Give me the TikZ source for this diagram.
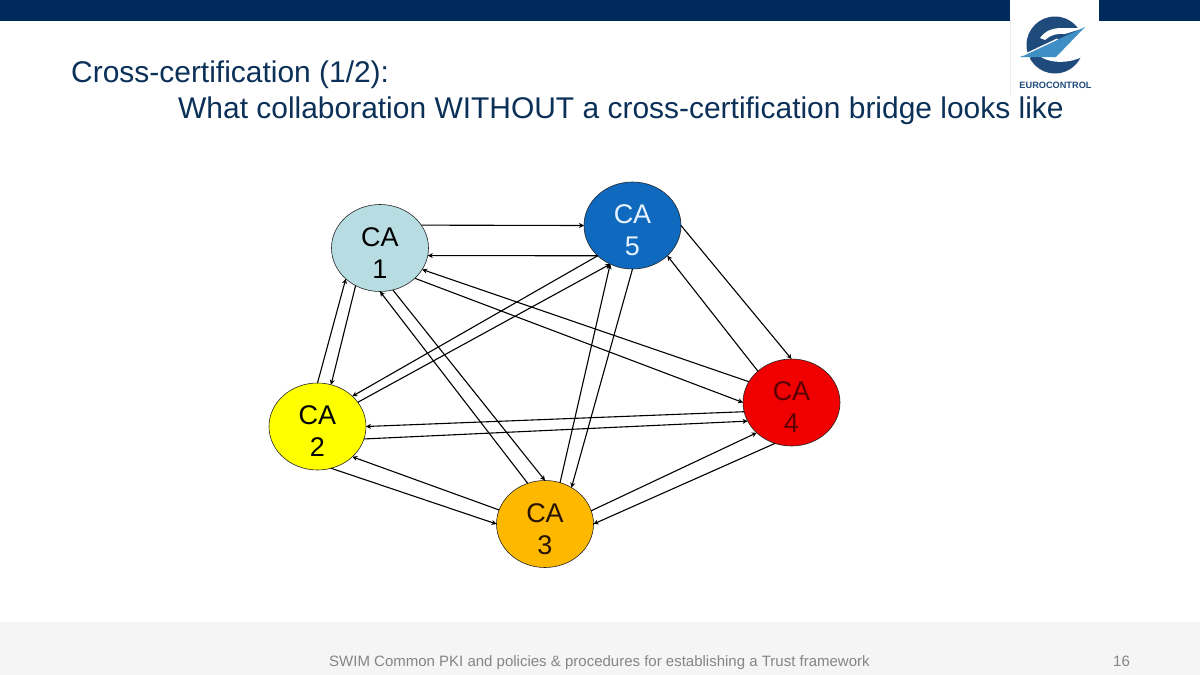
\documentclass[tikz,border=0pt]{standalone}
\usepackage{fontspec}
\setmainfont{Liberation Sans}
\usetikzlibrary{shapes.geometric,arrows.meta}
\definecolor{navy}{HTML}{002A5C}
\definecolor{titleblue}{HTML}{0B3158}
\definecolor{footgray}{HTML}{858585}
\definecolor{footband}{HTML}{F5F5F5}
\definecolor{logodark}{HTML}{1F4A7C}
\definecolor{logolight}{HTML}{3F8FC4}
\newcommand{\catext}[2]{\raisebox{-14pt}[0pt][0pt]{\begin{tabular}{@{}c@{}}#1\\#2\end{tabular}}}
\tikzset{
  canode/.style={ellipse,draw=black!85!white,line width=0.6pt,minimum width=97pt,minimum height=87pt,inner sep=0pt,outer sep=0pt,font=\fontsize{27}{32}\selectfont},
  link/.style={draw=black,line width=1.1pt,-{Stealth[length=5pt,width=5pt]}},
  titletext/.style={anchor=base west,inner sep=0pt,text=titleblue,font=\fontsize{29.95}{34}\selectfont},
  foottext/.style={anchor=base west,inner sep=0pt,text=footgray,font=\fontsize{15}{17}\selectfont}
}
\begin{document}
\begin{tikzpicture}[x=1pt,y=-1pt]
\useasboundingbox (0,0) rectangle (1200,675);
\fill[white] (0,0) rectangle (1200,675);
% top bar and logo
\fill[navy] (0,0) rectangle (1200,20.5);
\fill[white] (1010,0) rectangle (1099,97);
\draw[black!8,line width=0.6pt] (1010,20) -- (1010,97);
\fill[logodark] (1055,45) circle (28.5);
\fill[white] (1082,28) -- (1090,28) -- (1090,57) -- (1082,57) .. controls (1070,63) and (1052,64) .. (1041,57) -- (1056,44) -- cycle;
\fill[white] (1040,38) .. controls (1045,31) and (1052,28) .. (1062,28) -- (1084,28) -- (1065,34) .. controls (1058,33) and (1050,35) .. (1045,40) -- cycle;
\fill[white] (1021,57.5) -- (1075,33) -- (1078,35) -- (1030,57.5) -- cycle;
\fill[logolight] (1085,27) -- (1020,57) -- (1056,57) -- cycle;
\fill[white] (1021,55.5) -- (1057,38.5) -- (1058,39.5) -- (1024,55.5) -- cycle;
\node[anchor=base,inner sep=0pt,text=logodark,font=\fontsize{9.2}{11}\selectfont\bfseries] (logotext) at (1055.5,88) {EUROCONTROL};
% title
\node[titletext] (title1) at (71,82) {Cross-certification (1/2):};
\node[titletext] (title2) at (178,118) {What collaboration WITHOUT a cross-certification bridge looks like};
% footer
\fill[footband] (0,622) rectangle (1200,675);
\node[foottext] (foot) at (329,666) {SWIM Common PKI and policies \& procedures for establishing a Trust framework};
\node[foottext] (page) at (1113,666) {16};
% nodes
\node[canode,fill={rgb,255:red,183;green,221;blue,226}] (ca1) at (380,248) {\catext{CA}{1}};
\node[canode,fill={rgb,255:red,15;green,106;blue,191},text={rgb,255:red,230;green,242;blue,255}] (ca5) at (632.5,225.5) {\catext{CA}{5}};
\node[canode,fill={rgb,255:red,255;green,255;blue,0}] (ca2) at (317.5,426.5) {\catext{CA}{2}};
\node[canode,fill={rgb,255:red,255;green,184;blue,0},text=black!85!orange] (ca3) at (545,524) {\catext{CA}{3}};
\node[canode,fill={rgb,255:red,240;green,0;blue,0},text={rgb,255:red,90;green,0;blue,0}] (ca4) at (791.5,402.5) {\catext{CA}{4}};
% connectors
\draw[link] (ca1.29.3) -- (ca5.180);
\draw[link] (ca5.221.5) -- (ca1.-9.5);
\draw[link] (ca4.154.8) -- (ca1.-27.1);
\draw[link] (ca1.-41.5) -- (ca4.180);
\draw[link] (ca2.90) -- (ca1.222.4);
\draw[link] (ca1.237.7) -- (ca2.72.8);
\draw[link] (ca3.113.7) -- (ca1.270);
\draw[link] (ca1.-73.2) -- (ca3.90);
\draw[link] (ca5.221.5) -- (ca2.41.5);
\draw[link] (ca2.31.8) -- (ca5.240);
\draw[link] (ca3.70.8) -- (ca5.240);
\draw[link] (ca5.270) -- (ca3.54.3);
\draw[link] (ca5.-0.6) -- (ca4.90);
\draw[link] (ca4.137.6) -- (ca5.-41.5);
\draw[link] (ca4.191) -- (ca2.0);
\draw[link] (ca2.-15.6) -- (ca4.203);
\draw[link] (ca3.163.7) -- (ca2.-41.5);
\draw[link] (ca2.-72.4) -- (ca3.180);
\draw[link] (ca3.16.3) -- (ca4.221.5);
\draw[link] (ca4.248.8) -- (ca3.0);
\end{tikzpicture}
\end{document}
